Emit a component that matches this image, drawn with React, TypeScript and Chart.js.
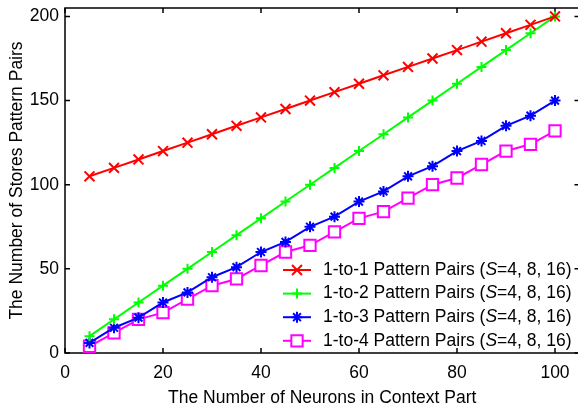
import React, { useEffect, useRef } from "react";
import { Chart, registerables } from "chart.js";
import { drawPoint } from "chart.js/helpers";

Chart.register(...registerables);

const neurons = [5, 10, 15, 20, 25, 30, 35, 40, 45, 50, 55, 60, 65, 70, 75, 80, 85, 90, 95, 100];
const pairs1to1 = [105, 110, 115, 120, 125, 130, 135, 140, 145, 150, 155, 160, 165, 170, 175, 180, 185, 190, 195, 200];
const pairs1to2 = [10, 20, 30, 40, 50, 60, 70, 80, 90, 100, 110, 120, 130, 140, 150, 160, 170, 180, 190, 200];
const pairs1to3 = [6, 15, 21, 30, 36, 45, 51, 60, 66, 75, 81, 90, 96, 105, 111, 120, 126, 135, 141, 150];
const pairs1to4 = [4, 12, 20, 24, 32, 40, 44, 52, 60, 64, 72, 80, 84, 92, 100, 104, 112, 120, 124, 132];

const seriesNames = ["1-to-1 Pattern Pairs", "1-to-2 Pattern Pairs", "1-to-3 Pattern Pairs", "1-to-4 Pattern Pairs"];
const seriesColors = ["#ff0000", "#00ff00", "#0000ff", "#ff00ff"];
const seriesMarkers = ["crossRot", "cross", "star", "rect"];
const seriesRadii = [7, 5, 5.5, 8];
const legendParamName = "S";
const legendParamValues = "=4, 8, 16)";

const xTicks = [0, 20, 40, 60, 80, 100];
const yTicks = [0, 50, 100, 150, 200];
const xTitle = "The Number of Neurons in Context Part";
const yTitle = "The Number of Stores Pattern Pairs";

const FONT_FAMILY = "'Liberation Sans', Arial, Helvetica, sans-serif";
const FONT_SIZE = 17.5;

const framePlugin = {
  id: "frame",
  beforeDatasetsDraw(chart: any) {
    const { ctx, chartArea, scales } = chart;
    const { left, right, top, bottom } = chartArea;
    ctx.save();
    ctx.strokeStyle = "#000";
    ctx.lineWidth = 1.5;
    ctx.strokeRect(left, top, right - left, bottom - top);
    ctx.beginPath();
    const t = 5;
    xTicks.forEach((v) => {
      const px = scales.x.getPixelForValue(v);
      ctx.moveTo(px, bottom);
      ctx.lineTo(px, bottom - t);
      ctx.moveTo(px, top);
      ctx.lineTo(px, top + t);
    });
    yTicks.forEach((v) => {
      const py = scales.y.getPixelForValue(v);
      ctx.moveTo(left, py);
      ctx.lineTo(left + t, py);
      ctx.moveTo(right, py);
      ctx.lineTo(right - t, py);
    });
    ctx.stroke();
    ctx.restore();
  },
};

const legendPlugin = {
  id: "customLegend",
  afterDraw(chart: any) {
    const { ctx } = chart;
    const lineX0 = 283;
    const lineX1 = 311;
    const textX = 323;
    const rowY0 = 270;
    const rowStep = 23.6;
    ctx.save();
    seriesNames.forEach((name, i) => {
      const y = rowY0 + i * rowStep;
      ctx.strokeStyle = seriesColors[i];
      ctx.lineWidth = 2;
      ctx.beginPath();
      ctx.moveTo(lineX0, y);
      ctx.lineTo(lineX1, y);
      ctx.stroke();
      ctx.fillStyle = "#ffffff";
      drawPoint(
        ctx,
        {
          pointStyle: seriesMarkers[i],
          radius: seriesRadii[i],
          borderWidth: 2,
          rotation: 0,
        } as any,
        (lineX0 + lineX1) / 2,
        y
      );
      ctx.fillStyle = "#000";
      ctx.textBaseline = "middle";
      ctx.textAlign = "left";
      ctx.font = `${FONT_SIZE}px ${FONT_FAMILY}`;
      let x = textX;
      const part1 = name + " (";
      ctx.fillText(part1, x, y);
      x += ctx.measureText(part1).width;
      ctx.font = `italic ${FONT_SIZE}px ${FONT_FAMILY}`;
      ctx.fillText(legendParamName, x, y);
      x += ctx.measureText(legendParamName).width;
      ctx.font = `${FONT_SIZE}px ${FONT_FAMILY}`;
      ctx.fillText(legendParamValues, x, y);
    });
    ctx.restore();
  },
};

export default function App() {
  const canvasRef = useRef<HTMLCanvasElement | null>(null);

  useEffect(() => {
    document.body.style.margin = "0";
    document.body.style.overflow = "hidden";
    document.documentElement.style.overflow = "hidden";
    const canvas = canvasRef.current;
    if (!canvas) return;
    const allSeries = [pairs1to1, pairs1to2, pairs1to3, pairs1to4];
    const font = { family: FONT_FAMILY, size: FONT_SIZE };
    const chart = new Chart(canvas, {
      type: "line",
      data: {
        datasets: allSeries.map((vals, i) => ({
          label: seriesNames[i],
          data: neurons.map((n, j) => ({ x: n, y: vals[j] })),
          borderColor: seriesColors[i],
          backgroundColor: seriesColors[i],
          borderWidth: 2,
          pointStyle: seriesMarkers[i] as any,
          pointRadius: seriesRadii[i],
          pointBorderWidth: 2,
          pointBorderColor: seriesColors[i],
          pointBackgroundColor: "#ffffff",
          tension: 0,
          fill: false,
          clip: false as any,
        })),
      },
      options: {
        animation: false,
        responsive: false,
        maintainAspectRatio: false,
        layout: { autoPadding: false, padding: { left: 0, right: 1.5, top: 8, bottom: 0 } },
        plugins: {
          legend: { display: false },
          tooltip: { enabled: false },
        },
        scales: {
          x: {
            type: "linear",
            min: 0,
            max: 105,
            afterBuildTicks: (s: any) => {
              s.ticks = xTicks.map((v) => ({ value: v }));
            },
            afterFit: (s: any) => {
              s.height = 57;
              s.paddingLeft = 0;
              s.paddingRight = 0;
            },
            grid: { display: false, drawTicks: false },
            border: { display: false },
            ticks: { color: "#000", font, padding: 10, maxRotation: 0, autoSkip: false },
            title: {
              display: true,
              text: xTitle,
              color: "#000",
              font,
              padding: { top: 0, bottom: 1 },
            },
          },
          y: {
            type: "linear",
            min: 0,
            max: 205,
            afterBuildTicks: (s: any) => {
              s.ticks = yTicks.map((v) => ({ value: v }));
            },
            afterFit: (s: any) => {
              s.width = 65;
              s.paddingTop = 0;
              s.paddingBottom = 0;
            },
            grid: { display: false, drawTicks: false },
            border: { display: false },
            ticks: { color: "#000", font, padding: 6, autoSkip: false },
            title: {
              display: true,
              text: yTitle,
              color: "#000",
              font,
              padding: { top: 7, bottom: 0 },
            },
          },
        },
      },
      plugins: [framePlugin, legendPlugin],
    });
    return () => chart.destroy();
  }, []);

  return (
    <div style={{ width: 581, height: 410, overflow: "hidden" }}>
      <canvas ref={canvasRef} width={581} height={410} style={{ display: "block" }} />
    </div>
  );
}
